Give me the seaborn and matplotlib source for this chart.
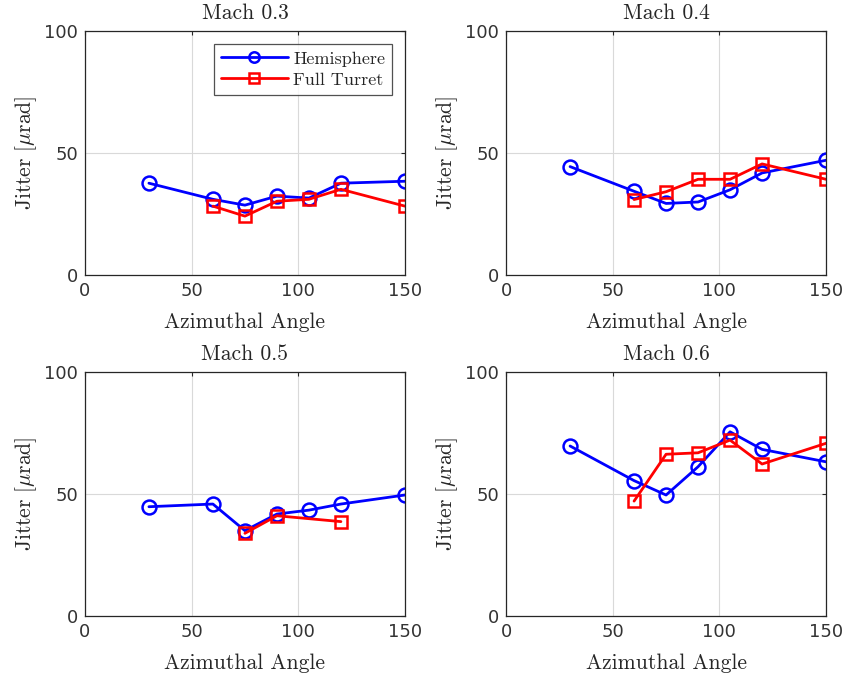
import matplotlib
matplotlib.use("Agg")
import matplotlib.pyplot as plt
import seaborn as sns
import pandas as pd

angles_hemi = [30, 60, 75, 90, 105, 120, 150]

panels = ["Mach 0.3", "Mach 0.4", "Mach 0.5", "Mach 0.6"]

hemi_m03 = [37.7, 31.1, 28.7, 32.4, 31.6, 37.7, 38.5]
turret_angles_m03 = [60, 75, 90, 105, 120, 150]
turret_m03 = [28.3, 24.2, 30.3, 31.1, 35.2, 28.3]

hemi_m04 = [44.5, 34.4, 29.4, 30.0, 35.0, 41.9, 47.1]
turret_angles_m04 = [60, 75, 90, 105, 120, 150]
turret_m04 = [31.0, 34.2, 39.3, 39.3, 45.6, 39.3]

hemi_m05 = [44.8, 45.9, 35.0, 41.8, 43.4, 45.9, 49.6]
turret_angles_m05 = [75, 90, 120]
turret_m05 = [33.9, 41.1, 38.7]

hemi_m06 = [69.7, 55.5, 49.6, 61.2, 75.5, 68.3, 63.2]
turret_angles_m06 = [60, 75, 90, 105, 120, 150]
turret_m06 = [47.1, 66.3, 66.9, 72.1, 62.3, 70.8]

hemi_values = [hemi_m03, hemi_m04, hemi_m05, hemi_m06]
turret_angles = [turret_angles_m03, turret_angles_m04, turret_angles_m05, turret_angles_m06]
turret_values = [turret_m03, turret_m04, turret_m05, turret_m06]

x_ticks = [0, 50, 100, 150]
y_ticks = [0, 50, 100]

sns.set_style("white")
plt.rcParams["mathtext.fontset"] = "cm"
plt.rcParams["font.family"] = ["DejaVu Sans"]

serif = {"family": "cmr10", "size": 15.5}

fig, axes = plt.subplots(2, 2, figsize=(8.49, 6.78), dpi=100)
fig.subplots_adjust(left=0.100, right=0.973, bottom=0.0914, top=0.954,
                    wspace=0.316, hspace=0.397)

edge = "#262626"
tick_color = "#333333"
for ax, title, hv, ta, tv in zip(axes.flat, panels, hemi_values, turret_angles, turret_values):
    df_h = pd.DataFrame({"angle": angles_hemi, "jitter": hv})
    df_t = pd.DataFrame({"angle": ta, "jitter": tv})
    sns.lineplot(data=df_h, x="angle", y="jitter", ax=ax, color="#0000ff",
                 marker="o", markersize=10, markerfacecolor="none",
                 markeredgecolor="#0000ff", markeredgewidth=1.8, linewidth=2,
                 label="Hemisphere", legend=False)
    sns.lineplot(data=df_t, x="angle", y="jitter", ax=ax, color="#ff0000",
                 marker="s", markersize=9, markerfacecolor="none",
                 markeredgecolor="#ff0000", markeredgewidth=1.8, linewidth=2,
                 label="Full Turret", legend=False)
    ax.set_xlim(0, 150)
    ax.set_ylim(0, 100)
    ax.set_xticks(x_ticks)
    ax.set_yticks(y_ticks)
    ax.grid(True, color="#d9d9d9", linewidth=0.8)
    ax.set_axisbelow(True)
    ax.tick_params(direction="in", length=3, width=0.8, color=edge,
                   labelcolor=tick_color, labelsize=13, pad=5, top=True,
                   right=True, labeltop=False, labelright=False)
    for s in ax.spines.values():
        s.set_visible(True)
        s.set_color(edge)
        s.set_linewidth(0.9)
    ax.set_title(title, fontdict=serif, pad=9, color=edge)
    ax.set_xlabel("Azimuthal Angle", fontdict=serif, labelpad=9, color=edge)
    ax.set_ylabel(r"Jitter [$\mu$rad]", fontdict=serif, labelpad=4, color=edge)

leg = axes[0, 0].legend(loc="upper right", prop={"family": "cmr10", "size": 13},
                        frameon=True, fancybox=False, edgecolor=edge,
                        borderpad=0.4, handlelength=3.7, labelspacing=0.3,
                        handletextpad=0.3, borderaxespad=0.7, markerscale=0.75)
leg.get_frame().set_linewidth(0.9)
for t in leg.get_texts():
    t.set_color(edge)

fig.savefig("out.png", dpi=100)
